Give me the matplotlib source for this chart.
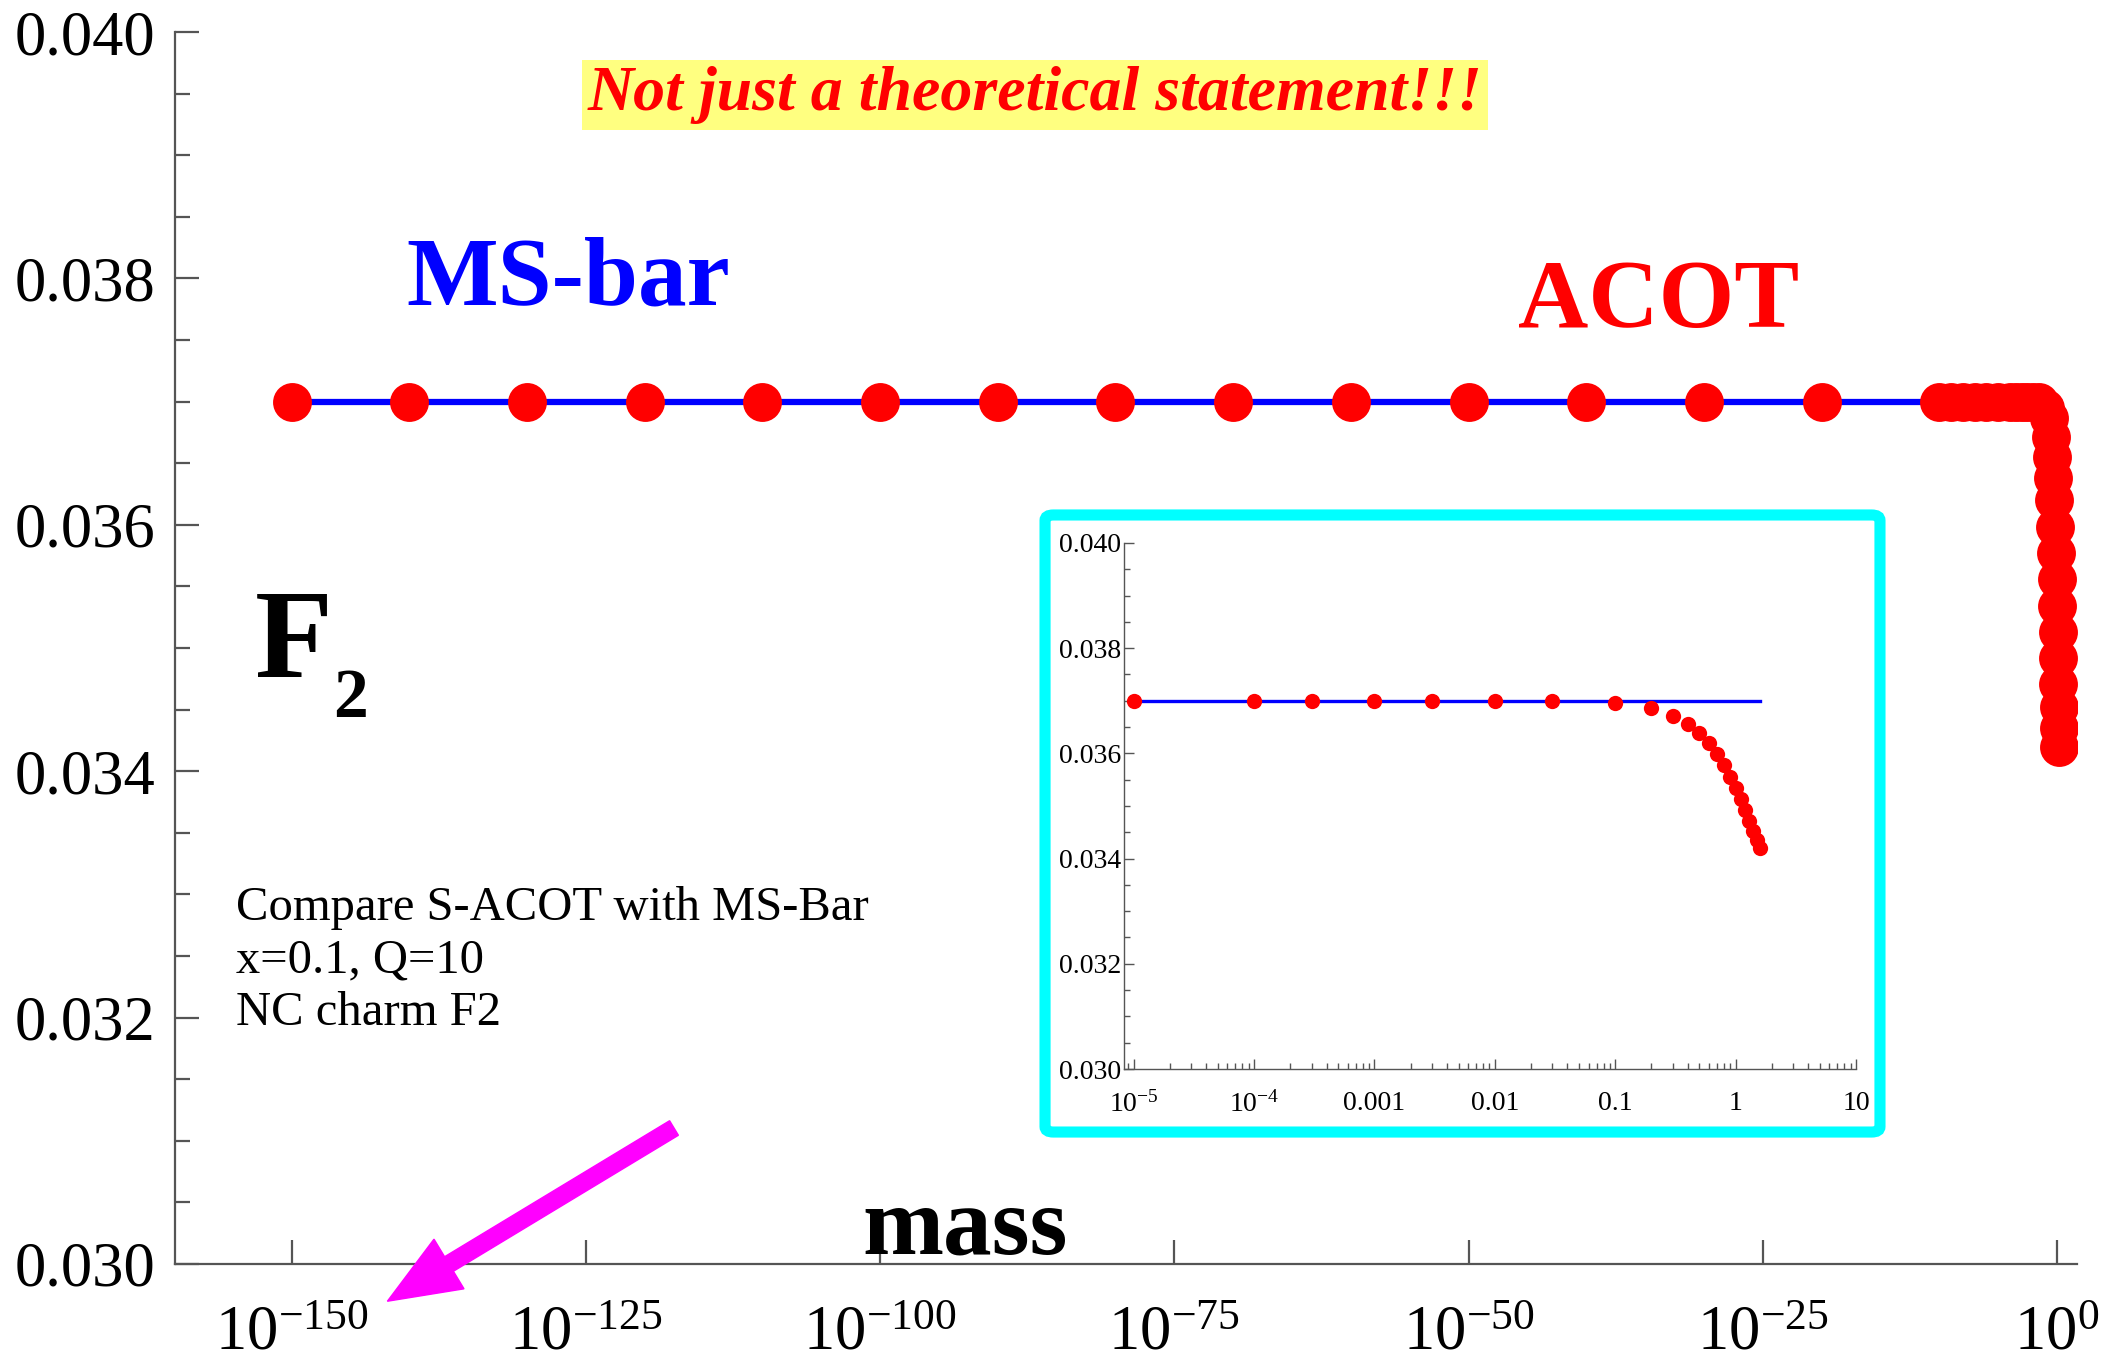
import matplotlib
matplotlib.use('Agg')
import matplotlib.pyplot as plt
import matplotlib.ticker as ticker
import matplotlib.patches as mpatches
from matplotlib.transforms import IdentityTransform

plt.rcParams['font.family'] = ['Liberation Serif', 'DejaVu Serif']
plt.rcParams['mathtext.fontset'] = 'custom'
plt.rcParams['mathtext.rm'] = 'Liberation Serif'
plt.rcParams['mathtext.it'] = 'Liberation Serif:italic'
plt.rcParams['mathtext.bf'] = 'Liberation Serif:bold'

# S-ACOT, very small masses (flat part)
acot_mass_far = [1e-150, 1e-140, 1e-130, 1e-120, 1e-110, 1e-100, 1e-90,
                 1e-80, 1e-70, 1e-60, 1e-50, 1e-40, 1e-30, 1e-20]
acot_f2_far = [0.0370] * len(acot_mass_far)

# S-ACOT, close to the charm mass
acot_mass_mid = [1e-10, 1e-9, 1e-8, 1e-7, 1e-6]
acot_f2_mid = [0.0370, 0.0370, 0.0370, 0.0370, 0.0370]

acot_mass_near = [1e-5, 1e-4, 3e-4, 1e-3, 3e-3, 1e-2, 3e-2, 0.1, 0.2, 0.3,
                  0.4, 0.5, 0.6, 0.7, 0.8, 0.9, 1.0, 1.1, 1.2, 1.3, 1.4, 1.5, 1.6]
acot_f2_near = [0.03700, 0.03700, 0.03700, 0.03700, 0.03700, 0.03700, 0.03700,
                0.03695, 0.03687, 0.03671, 0.03655, 0.03638, 0.03620, 0.03598,
                0.03577, 0.03556, 0.03534, 0.03513, 0.03492, 0.03471, 0.03452,
                0.03435, 0.03420]

# MS-bar result: mass independent
msbar_mass = [1e-150, 1.6]
msbar_f2 = [0.0370, 0.0370]

main_ticks = [1e-150, 1e-125, 1e-100, 1e-75, 1e-50, 1e-25, 1e0]
inset_ticks = [1e-5, 1e-4, 1e-3, 1e-2, 1e-1, 1, 10]
inset_labels = [r'$10^{-5}$', r'$10^{-4}$', '0.001', '0.01', '0.1', '1', '10']

axis_grey = '#555555'

fig = plt.figure(figsize=(21.01, 13.70), dpi=100)
ax = fig.add_axes([0.0833, 0.0774, 0.9053, 0.8992])
ax.set_facecolor('none')

ax.plot(msbar_mass, msbar_f2, color='#0000ff', lw=4.5, zorder=2)
ax.plot(acot_mass_far + acot_mass_mid + acot_mass_near,
        acot_f2_far + acot_f2_mid + acot_f2_near,
        'o', color='#ff0000', ms=28, mec='none', zorder=3)

ax.set_xscale('log')
ax.set_xlim(10 ** -159.9, 10 ** 1.7)
ax.set_ylim(0.030, 0.040)
ax.xaxis.set_major_locator(ticker.FixedLocator(main_ticks))
ax.xaxis.set_minor_locator(ticker.NullLocator())
ax.xaxis.set_major_formatter(ticker.LogFormatterMathtext())
ax.yaxis.set_major_locator(ticker.MultipleLocator(0.002))
ax.yaxis.set_minor_locator(ticker.MultipleLocator(0.0005))
ax.yaxis.set_major_formatter(ticker.FormatStrFormatter('%.3f'))

for s in ['top', 'right']:
    ax.spines[s].set_visible(False)
for s in ['left', 'bottom']:
    ax.spines[s].set_color(axis_grey)
    ax.spines[s].set_linewidth(1.6)
ax.tick_params(which='major', direction='in', length=17, width=1.6,
               color=axis_grey, labelsize=45)
ax.tick_params(which='minor', direction='in', length=11, width=1.6,
               color=axis_grey)
ax.tick_params(axis='x', pad=30, labelsize=45)
ax.tick_params(axis='y', pad=14)

# labels on the plot
fig.text(0.4926, 0.9307, 'Not just a theoretical statement!!!', color='#ff0000',
         fontsize=46, fontweight='bold', fontstyle='italic', ha='center', va='center',
         bbox=dict(facecolor='#ffff80', edgecolor='none', pad=4))
fig.text(0.1932, 0.7774, 'MS-bar', color='#0000ff', fontsize=70, fontweight='bold')
fig.text(0.7225, 0.7613, 'ACOT', color='#ff0000', fontsize=70, fontweight='bold')
fig.text(0.1214, 0.5058, 'F', color='black', fontsize=92, fontweight='bold')
fig.text(0.1585, 0.4766, '2', color='black', fontsize=50, fontweight='bold')
fig.text(0.4593, 0.0854, 'mass', color='black', fontsize=70, fontweight='bold',
         ha='center')
fig.text(0.1123, 0.2518, 'Compare S-ACOT with MS-Bar\nx=0.1, Q=10\nNC charm F2',
         color='black', fontsize=35, va='baseline', linespacing=1.25)

# magenta arrow pointing to the small-mass end
arrow = mpatches.FancyArrow(674, 242, -225, -136, width=17,
                            head_width=58, head_length=72, color='#ff00ff',
                            length_includes_head=False, transform=IdentityTransform())
fig.add_artist(arrow)

# inset: zoom on the last few decades
axin = fig.add_axes([0.535, 0.2197, 0.3484, 0.384])
axin.plot(acot_mass_near[:1] + [1.6], msbar_f2, color='#0000ff', lw=2.4, zorder=2)
axin.plot(acot_mass_near, acot_f2_near, 'o', color='#ff0000', ms=11, mec='none',
          zorder=3)
axin.set_xscale('log')
axin.set_xlim(10 ** -5.08, 10 ** 1.0)
axin.set_ylim(0.030, 0.040)
axin.xaxis.set_major_locator(ticker.FixedLocator(inset_ticks))
axin.xaxis.set_major_formatter(ticker.FixedFormatter(inset_labels))
axin.xaxis.set_minor_locator(ticker.LogLocator(base=10, subs=range(2, 10)))
axin.xaxis.set_minor_formatter(ticker.NullFormatter())
axin.yaxis.set_major_locator(ticker.MultipleLocator(0.002))
axin.yaxis.set_minor_locator(ticker.MultipleLocator(0.0005))
axin.yaxis.set_major_formatter(ticker.FormatStrFormatter('%.3f'))
for s in ['top', 'right']:
    axin.spines[s].set_visible(False)
for s in ['left', 'bottom']:
    axin.spines[s].set_color(axis_grey)
    axin.spines[s].set_linewidth(1.0)
axin.tick_params(which='major', direction='in', length=7, width=1.0,
                 color=axis_grey, labelsize=20)
axin.tick_params(which='minor', direction='in', length=4, width=1.0,
                 color=axis_grey)
axin.tick_params(axis='x', pad=16)
axin.tick_params(axis='y', pad=2)

frame = mpatches.FancyBboxPatch((0.4974, 0.1737), 0.3974, 0.4504,
                                boxstyle='round,pad=0,rounding_size=0.004',
                                transform=fig.transFigure, facecolor='none',
                                edgecolor='#00ffff', lw=8, zorder=5)
fig.add_artist(frame)

fig.savefig('out.png', dpi=100)
